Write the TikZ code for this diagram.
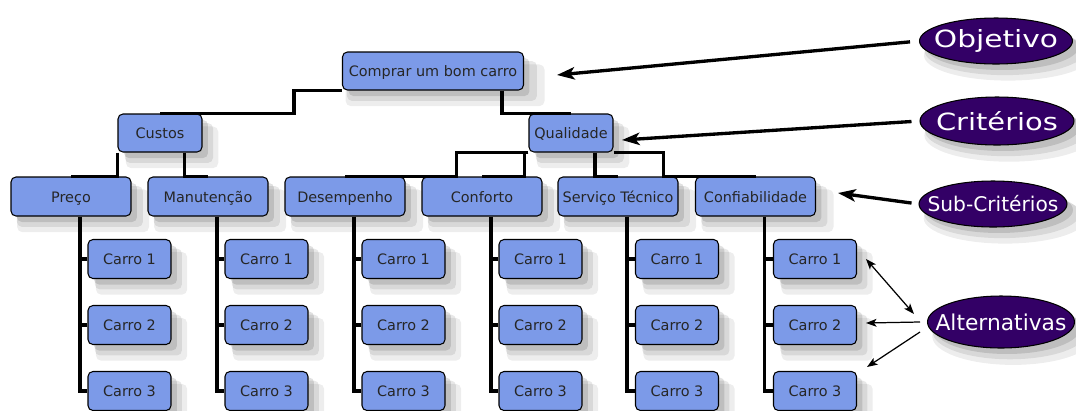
\documentclass[tikz,border=0pt]{standalone}
\usepackage{fontspec}
\setmainfont{DejaVu Sans}
\usepackage{tikz}
\usetikzlibrary{arrows.meta,shadows,shapes.geometric}
\definecolor{boxblue}{RGB}{124,154,232}
\definecolor{tagpurple}{RGB}{51,0,102}
\tikzset{
	softshade/.style={
		general shadow={fill=black, opacity=0.07, shadow scale=1.1, shadow xshift=0.22cm, shadow yshift=-0.26cm},
		general shadow={fill=black, opacity=0.09, shadow scale=1.05, shadow xshift=0.17cm, shadow yshift=-0.19cm},
		general shadow={fill=black, opacity=0.12, shadow xshift=0.12cm, shadow yshift=-0.12cm}},
	box/.style={draw=black, line width=0.6pt, fill=boxblue, rounded corners=2.8pt, inner sep=0pt,
		text height=1.6ex, text depth=0.45ex,
		font=\fontsize{8.2}{10}\selectfont, text=black!85, softshade},
	goalbox/.style={box, minimum width=3.62cm, minimum height=0.76cm},
	critbox/.style={box, minimum width=1.68cm, minimum height=0.76cm},
	subbox/.style={box, minimum width=2.4cm, minimum height=0.78cm},
	carbox/.style={box, minimum width=1.66cm, minimum height=0.78cm},
	tag/.style={ellipse, draw=black, line width=0.6pt, fill=tagpurple, text=white, inner sep=0pt, softshade},
	link/.style={line width=1.8pt},
	bigarrow/.style={line width=1.9pt, -{Stealth[length=10pt, width=7pt, inset=2.5pt]}},
	thinarrow/.style={line width=0.7pt, -{Stealth[length=6pt, width=4.5pt, inset=1.5pt]}}
}

\begin{document}
\begin{tikzpicture}[x=0.02cm, y=-0.02cm]
		%%%%% START %%%%%
		\useasboundingbox (0,0) rectangle (1076,410);
		
		% objetivo e criterios
		\node[goalbox] (goal) at (433,71) {Comprar um bom carro};
		\node[critbox] (custos) at (160,133) {Custos};
		\node[critbox] (qualidade) at (571,133) {Qualidade};
		
		% sub-criterios
		\node[subbox] (preco) at (71,196.5) {Preço};
		\node[subbox] (manut) at (208,196.5) {Manutenção};
		\node[subbox] (desemp) at (345,196.5) {Desempenho};
		\node[subbox] (conforto) at (482,196.5) {Conforto};
		\node[subbox] (servico) at (618,196.5) {Serviço Técnico};
		\node[subbox] (confiab) at (755.5,196.5) {Confiabilidade};
		
		% alternativas
		\node[carbox] (c11) at (129.5,259) {Carro 1};
		\node[carbox] (c12) at (129.5,325) {Carro 2};
		\node[carbox] (c13) at (129.5,391) {Carro 3};
		
		\node[carbox] (c21) at (266.5,259) {Carro 1};
		\node[carbox] (c22) at (266.5,325) {Carro 2};
		\node[carbox] (c23) at (266.5,391) {Carro 3};
		
		\node[carbox] (c31) at (403.5,259) {Carro 1};
		\node[carbox] (c32) at (403.5,325) {Carro 2};
		\node[carbox] (c33) at (403.5,391) {Carro 3};
		
		\node[carbox] (c41) at (540.5,259) {Carro 1};
		\node[carbox] (c42) at (540.5,325) {Carro 2};
		\node[carbox] (c43) at (540.5,391) {Carro 3};
		
		\node[carbox] (c51) at (677,259) {Carro 1};
		\node[carbox] (c52) at (677,325) {Carro 2};
		\node[carbox] (c53) at (677,391) {Carro 3};
		
		\node[carbox] (c61) at (815,259) {Carro 1};
		\node[carbox] (c62) at (815,325) {Carro 2};
		\node[carbox] (c63) at (815,391) {Carro 3};
		
		% ligacoes de cima
		\draw[link] (goal.south west) -- ++(-48,0) |- (custos.north);
		\draw[link] ([xshift=-0.44cm]goal.south east) |- (qualidade.north);
		
		\draw[link] (custos.south west) |- (preco.north);
		\draw[link] ([xshift=-0.36cm]custos.south east) |- (manut.north);
		
		\draw[link] (qualidade.south west) -- ++(-72,0) |- (desemp.north);
		\draw[link] (qualidade.south west) -- ++(-4,0) |- (conforto.north);
		\draw[link] ([xshift=0.48cm]qualidade.south) |- (servico.north);
		\draw[link] (qualidade.south east) -- ++(50,0) |- (confiab.north);
		
		% troncos das alternativas
		\coordinate (t1) at ([xshift=0.18cm]preco.south);
		\coordinate (t2) at ([xshift=0.18cm]manut.south);
		\coordinate (t3) at ([xshift=0.18cm]desemp.south);
		\coordinate (t4) at ([xshift=0.18cm]conforto.south);
		\coordinate (t5) at ([xshift=0.18cm]servico.south);
		\coordinate (t6) at ([xshift=0.18cm]confiab.south);
		
		\draw[link] (t1) |- (c13.west);
		\draw[link] (c11.west) -- (c11.west -| t1);
		\draw[link] (c12.west) -- (c12.west -| t1);
		
		\draw[link] (t2) |- (c23.west);
		\draw[link] (c21.west) -- (c21.west -| t2);
		\draw[link] (c22.west) -- (c22.west -| t2);
		
		\draw[link] (t3) |- (c33.west);
		\draw[link] (c31.west) -- (c31.west -| t3);
		\draw[link] (c32.west) -- (c32.west -| t3);
		
		\draw[link] (t4) |- (c43.west);
		\draw[link] (c41.west) -- (c41.west -| t4);
		\draw[link] (c42.west) -- (c42.west -| t4);
		
		\draw[link] (t5) |- (c53.west);
		\draw[link] (c51.west) -- (c51.west -| t5);
		\draw[link] (c52.west) -- (c52.west -| t5);
		
		\draw[link] (t6) |- (c63.west);
		\draw[link] (c61.west) -- (c61.west -| t6);
		\draw[link] (c62.west) -- (c62.west -| t6);
		
		% legendas
		\node[tag, minimum width=3.06cm, minimum height=0.92cm, font=\fontsize{13.5}{16}\selectfont] (objetivo) at (996,41) {\makebox[0pt]{\scalebox{1.25}[1]{Objetivo}}};
		\node[tag, minimum width=3.08cm, minimum height=0.96cm, font=\fontsize{13.5}{16}\selectfont] (criterios) at (997,121) {\makebox[0pt]{\scalebox{1.22}[1]{Critérios}}};
		\node[tag, minimum width=2.96cm, minimum height=0.92cm, font=\fontsize{11.5}{14}\selectfont] (subcrit) at (993,204) {\makebox[0pt]{Sub-Critérios}};
		\node[tag, minimum width=2.94cm, minimum height=1.04cm, font=\fontsize{12.4}{15}\selectfont] (altern) at (1001,322) {\makebox[0pt]{Alternativas}};
		
		\coordinate (goaltip) at (557,75);
		\coordinate (qualtip) at (622,140);
		\coordinate (subtip) at (838,193);
		\draw[bigarrow, shorten <=0.18cm] (objetivo.west) -- (goaltip);
		\draw[bigarrow, shorten <=0.16cm] (criterios.west) -- (qualtip);
		\draw[bigarrow, shorten <=0.14cm] (subcrit.west) -- (subtip);
		
		\coordinate (altfoot) at (920,322);
		\coordinate (altup) at (914,314);
		\coordinate (altlow) at (920,332);
		\coordinate (alt1) at (866,259);
		\coordinate (alt2) at (866,323);
		\coordinate (alt3) at (867,367);
		\draw[thinarrow, {Stealth[length=6pt, width=4.5pt, inset=1.5pt]}-{Stealth[length=6pt, width=4.5pt, inset=1.5pt]}] (altup) -- (alt1);
		\draw[thinarrow] (altfoot) -- (alt2);
		\draw[thinarrow] (altlow) -- (alt3);
		
		%%%%% END %%%%%
	\end{tikzpicture}
\end{document}
